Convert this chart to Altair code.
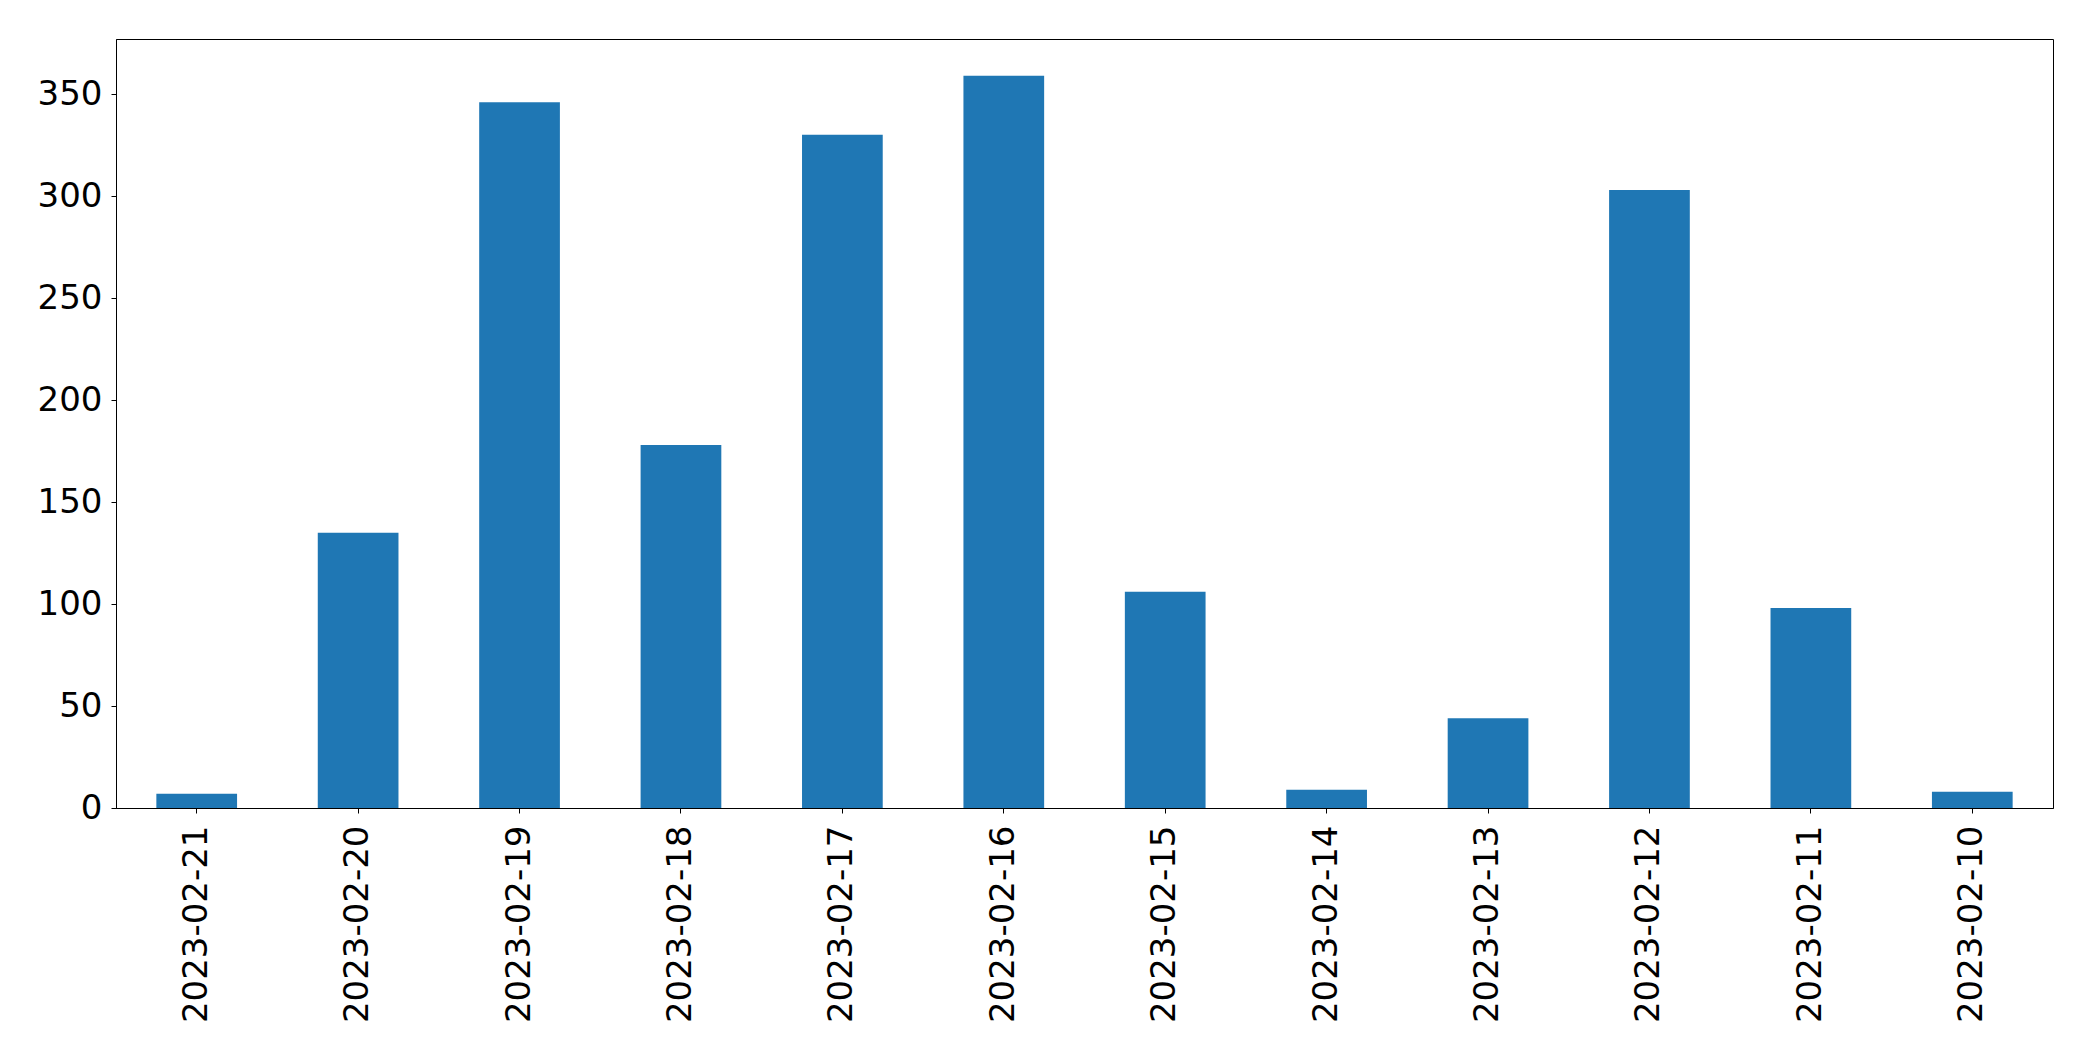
import altair as alt
import pandas as pd

dates = ["2023-02-21", "2023-02-20", "2023-02-19", "2023-02-18", "2023-02-17", "2023-02-16",
         "2023-02-15", "2023-02-14", "2023-02-13", "2023-02-12", "2023-02-11", "2023-02-10"]
counts = [7, 135, 346, 178, 330, 359, 106, 9, 44, 303, 98, 8]
y_ticks = [0, 50, 100, 150, 200, 250, 300, 350]

df = pd.DataFrame({"date": dates, "count": counts})

chart = alt.Chart(df).mark_bar(color="#1f77b4").encode(
    x=alt.X("date:N", sort=dates, title=None,
            scale=alt.Scale(paddingInner=0.5, paddingOuter=0.25),
            axis=alt.Axis(labelAngle=-90, labelPadding=12)),
    y=alt.Y("count:Q", title=None,
            scale=alt.Scale(domain=[0, 377], nice=False, zero=True),
            axis=alt.Axis(values=y_ticks, grid=False, labelPadding=9)),
).properties(
    width=1937, height=769,
    autosize=alt.AutoSizeParams(type="none"),
    padding={"left": 108, "top": 31, "right": 32, "bottom": 240},
).configure(
    background="white"
).configure_view(
    stroke="black", strokeWidth=1
).configure_axis(
    labelFontSize=34, labelFont="DejaVu Sans", labelColor="black", labelLimit=0,
    tickColor="black", tickSize=5, tickWidth=1,
    domainColor="black", domainWidth=1,
)

chart.save("out.html", embed_options={"renderer": "svg", "actions": False})
